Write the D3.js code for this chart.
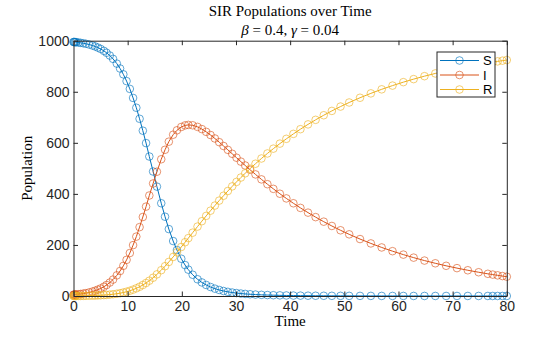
<!DOCTYPE html>
<html>
<head>
<meta charset="utf-8">
<script src="https://cdn.jsdelivr.net/npm/d3@7"></script>
<style>
  body { margin: 0; background: #fff; }
  svg { display: block; }
</style>
</head>
<body>
<script>
// SIR populations over time - D3 version of the MATLAB figure

// ---------------- data ----------------
const timeVals = [0, 0.1, 0.2, 0.35, 0.5, 0.9, 1.3, 1.8, 2.3, 2.9, 3.5, 4.0, 4.5, 5.0, 5.6, 6.1, 6.7, 7.3, 8.0, 8.6,
  9.2, 9.8, 10.4, 11.0, 11.6, 12.2, 12.8, 13.4, 14.0, 14.7, 15.4, 16.2, 16.9, 17.6, 18.4, 19.1, 19.9, 20.6, 21.2, 22.0,
  22.9, 23.7, 24.5, 25.3, 26.1, 26.9, 27.7, 28.5, 29.3, 30.1, 30.9, 31.7, 32.6, 33.6, 34.7, 35.8, 36.9, 38.1, 39.3, 40.6,
  41.9, 43.3, 44.7, 46.2, 47.7, 49.3, 50.9, 52.9, 54.9, 56.9, 58.9, 60.9, 62.8, 64.8, 66.8, 68.8, 70.8, 72.8, 74.8, 76.5,
  77.4, 78.3, 79.2, 80.0];

const sVals = [995.00, 994.80, 994.59, 994.26, 993.91, 992.89, 991.71, 989.98, 987.92, 984.91, 981.20, 977.44, 972.97, 967.82, 960.28, 952.71, 941.91, 928.86, 910.17, 891.04,
  868.27, 841.71, 811.23, 775.81, 737.38, 694.11, 647.59, 598.88, 546.35, 487.59, 428.50, 363.25, 310.56, 262.16, 215.21, 180.05, 145.96, 121.14, 103.19, 83.28,
  65.54, 53.11, 43.17, 35.21, 28.82, 23.71, 19.61, 16.29, 13.60, 11.40, 9.61, 8.14, 6.80, 5.60, 4.56, 3.74, 3.10, 2.55, 2.11, 1.74,
  1.45, 1.20, 1.00, 0.84, 0.71, 0.60, 0.51, 0.42, 0.36, 0.30, 0.26, 0.23, 0.20, 0.18, 0.16, 0.15, 0.14, 0.12, 0.12, 0.11,
  0.10, 0.10, 0.10, 0.10];

const iVals = [5.00, 5.18, 5.37, 5.67, 5.98, 6.90, 7.96, 9.52, 11.37, 14.07, 17.41, 20.78, 24.79, 29.41, 36.17, 42.95, 52.61, 64.26, 80.92, 97.91,
  118.09, 141.54, 168.30, 199.31, 232.56, 269.79, 309.35, 350.12, 393.70, 440.76, 486.80, 535.63, 572.76, 604.44, 631.81, 649.02, 662.07, 668.28, 670.19, 668.67,
  662.45, 653.85, 642.99, 630.58, 617.01, 602.60, 587.67, 572.43, 557.05, 541.67, 526.36, 511.25, 494.50, 476.28, 456.80, 437.94, 419.71, 400.59, 382.26, 363.23,
  345.11, 326.56, 308.96, 291.14, 274.31, 257.41, 241.53, 223.05, 205.97, 190.17, 175.59, 162.12, 150.29, 138.76, 128.11, 118.28, 109.19, 100.81, 93.07, 86.95,
  83.88, 80.92, 78.06, 75.60];

const rVals = [0.00, 0.02, 0.04, 0.07, 0.11, 0.21, 0.33, 0.51, 0.71, 1.02, 1.40, 1.78, 2.24, 2.77, 3.55, 4.34, 5.49, 6.89, 8.91, 11.05,
  13.64, 16.75, 20.47, 24.88, 30.07, 36.11, 43.07, 51.01, 59.95, 71.65, 84.70, 101.13, 116.68, 133.40, 152.98, 170.93, 191.97, 210.58, 226.62, 248.05,
  272.01, 293.04, 313.84, 334.21, 354.17, 373.69, 392.72, 411.28, 429.35, 446.93, 464.03, 480.61, 498.70, 518.12, 538.64, 558.32, 577.19, 596.86, 615.63, 635.03,
  653.44, 672.24, 690.04, 708.02, 724.98, 741.99, 757.96, 776.53, 793.67, 809.53, 824.15, 837.65, 849.51, 861.06, 871.73, 881.57, 890.67, 899.07, 906.81, 912.94,
  916.02, 918.98, 921.84, 924.30];

const seriesNames = ["S", "I", "R"];
const xTicks = [0, 10, 20, 30, 40, 50, 60, 70, 80];
const yTicks = [0, 200, 400, 600, 800, 1000];

// ---------------- chart ----------------
const W = 560, H = 337;
const margin = { top: 40.7, right: 53.2, bottom: 41, left: 73.5 };
const width = W - margin.left - margin.right;
const height = H - margin.top - margin.bottom;

const sansFont = "'Liberation Sans', Arial, Helvetica, sans-serif";
const serifFont = "'Liberation Serif', 'Times New Roman', Times, serif";
const axisColor = "#262626";
const colors = ["#0072BD", "#D95319", "#EDB120"];

const series = [sVals, iVals, rVals].map((vals, k) => ({
  name: seriesNames[k],
  color: colors[k],
  points: timeVals.map((t, j) => ({ t: t, v: vals[j] }))
}));

const root = d3.select("body").append("svg")
  .attr("width", W)
  .attr("height", H);

const svg = root.append("g")
  .attr("transform", `translate(${margin.left},${margin.top})`);

const x = d3.scaleLinear().domain([0, 80]).range([0, width]);
const y = d3.scaleLinear().domain([0, 1000]).range([height, 0]);

// lines + open circle markers
const line = d3.line().x(d => x(d.t)).y(d => y(d.v));

series.forEach(s => {
  const g = svg.append("g");
  g.append("path")
    .datum(s.points)
    .attr("fill", "none")
    .attr("stroke", s.color)
    .attr("stroke-width", 1)
    .attr("d", line);
  g.selectAll("circle")
    .data(s.points)
    .enter()
    .append("circle")
    .attr("cx", d => x(d.t))
    .attr("cy", d => y(d.v))
    .attr("r", 3.8)
    .attr("fill", "none")
    .attr("stroke", s.color)
    .attr("stroke-opacity", 0.7)
    .attr("stroke-width", 0.9);
});

// axes (MATLAB style: ticks inside, box on)
const tickLen = 4.5;
const fmt = d3.format("d");

function styleAxis(g) {
  g.selectAll("path.domain").attr("stroke", axisColor).attr("stroke-width", 1);
  g.selectAll(".tick line").attr("stroke", axisColor).attr("stroke-width", 1);
  g.selectAll(".tick text")
    .attr("fill", axisColor)
    .style("font-family", sansFont)
    .style("font-size", "14px");
}

svg.append("g")
  .attr("transform", `translate(0,${height})`)
  .call(d3.axisBottom(x).tickValues(xTicks).tickFormat(fmt).tickSizeInner(-tickLen).tickSizeOuter(0).tickPadding(5))
  .call(styleAxis);

svg.append("g")
  .call(d3.axisTop(x).tickValues(xTicks).tickSizeInner(-tickLen).tickSizeOuter(0).tickFormat(""))
  .call(styleAxis);

svg.append("g")
  .call(d3.axisLeft(y).tickValues(yTicks).tickFormat(fmt).tickSizeInner(-tickLen).tickSizeOuter(0).tickPadding(4))
  .call(styleAxis);

svg.append("g")
  .attr("transform", `translate(${width},0)`)
  .call(d3.axisRight(y).tickValues(yTicks).tickSizeInner(-tickLen).tickSizeOuter(0).tickFormat(""))
  .call(styleAxis);

// titles and labels
root.append("text")
  .attr("x", margin.left + width / 2)
  .attr("y", 16)
  .attr("text-anchor", "middle")
  .style("font-family", serifFont)
  .style("font-size", "15px")
  .attr("fill", "#000")
  .text("SIR Populations over Time");

const sub = root.append("text")
  .attr("x", margin.left + width / 2)
  .attr("y", 35)
  .attr("text-anchor", "middle")
  .style("font-family", serifFont)
  .style("font-size", "15px")
  .attr("fill", "#000");
sub.append("tspan").style("font-style", "italic").text("β");
sub.append("tspan").text(" = 0.4, ");
sub.append("tspan").style("font-style", "italic").text("γ");
sub.append("tspan").text(" = 0.04");

root.append("text")
  .attr("x", margin.left + width / 2)
  .attr("y", 326)
  .attr("text-anchor", "middle")
  .style("font-family", serifFont)
  .style("font-size", "15px")
  .attr("fill", "#000")
  .text("Time");

root.append("text")
  .attr("transform", `translate(32,${margin.top + height / 2}) rotate(-90)`)
  .attr("text-anchor", "middle")
  .style("font-family", serifFont)
  .style("font-size", "15px")
  .attr("fill", "#000")
  .text("Population");

// legend
const legend = root.append("g").attr("transform", "translate(437,52)");
legend.append("rect")
  .attr("width", 58)
  .attr("height", 45)
  .attr("fill", "#fff")
  .attr("stroke", axisColor)
  .attr("stroke-width", 1);

series.forEach((s, k) => {
  const cy = 8.5 + k * 14.5;
  legend.append("line")
    .attr("x1", 3).attr("x2", 42)
    .attr("y1", cy).attr("y2", cy)
    .attr("stroke", s.color)
    .attr("stroke-width", 1);
  legend.append("circle")
    .attr("cx", 22.5).attr("cy", cy).attr("r", 3.8)
    .attr("fill", "none")
    .attr("stroke", s.color)
    .attr("stroke-opacity", 0.7)
    .attr("stroke-width", 0.9);
  legend.append("text")
    .attr("x", 46)
    .attr("y", cy + 4.5)
    .style("font-family", sansFont)
    .style("font-size", "13px")
    .attr("fill", "#000")
    .text(s.name);
});
</script>
</body>
</html>
